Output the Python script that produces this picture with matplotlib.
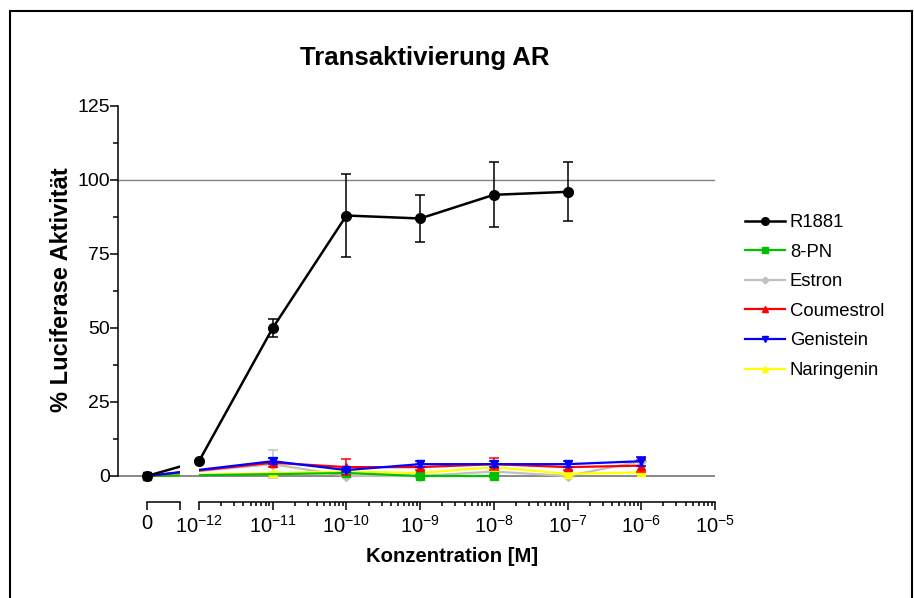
import numpy as np
import matplotlib
matplotlib.use('Agg')
import matplotlib.pyplot as plt
from matplotlib.ticker import FixedLocator, LogLocator, NullFormatter
from matplotlib.patches import Rectangle

plt.rcParams['font.family'] = ['Liberation Sans', 'DejaVu Sans']
plt.rcParams['mathtext.fontset'] = 'custom'
plt.rcParams['mathtext.rm'] = 'Liberation Sans'

# concentration in M (0 = solvent control, drawn on its own short axis)
conc = [0, 1e-12, 1e-11, 1e-10, 1e-9, 1e-8, 1e-7, 1e-6]
nan = np.nan
r1881 = [0, 5, 50, 88, 87, 95, 96, nan]
r1881_err = [0, 0, 3, 14, 8, 11, 10, nan]
pn8 = [0, nan, nan, 1, 0, 0, nan, nan]
pn8_err = [0, nan, nan, 0.5, 0.5, 0.5, nan, nan]
estron = [0, nan, 4, 0, 0, 1.5, 0, 5]
estron_err = [0, nan, 4.8, 0, 0, 0.5, 0, 1.5]
coumestrol = [0, nan, 4.5, 3, 3, 4, 3, 3.5]
coumestrol_err = [0, nan, 1.5, 2.7, 1, 2, 1, 2]
genistein = [0, nan, 5, 2, 4, 4, 4, 5]
genistein_err = [0, nan, 1, 0.5, 1, 1, 1, 1.5]
naringenin = [0, nan, 1, 1.5, 1, 3, 0.7, 1.2]
naringenin_err = [0, nan, 0.5, 0.5, 0.5, 0.5, 0.5, 0.5]

series = [
    ('R1881', r1881, r1881_err, 'black', 'o', 7, 1.8),
    ('8-PN', pn8, pn8_err, '#00c000', 's', 6, 1.6),
    ('Estron', estron, estron_err, '#c0c0c0', 'D', 5, 1.6),
    ('Coumestrol', coumestrol, coumestrol_err, 'red', '^', 6, 1.6),
    ('Genistein', genistein, genistein_err, 'blue', 'v', 6, 1.6),
    ('Naringenin', naringenin, naringenin_err, 'yellow', '^', 6, 1.6),
]
draw_order = [2, 5, 1, 3, 4, 0]

yticks = [0, 25, 50, 75, 100, 125]
xticks = [1e-12, 1e-11, 1e-10, 1e-9, 1e-8, 1e-7, 1e-6, 1e-5]

# pixel layout helpers
W, H = 914, 598
dec = (715 - 199) / 7.0
x0 = 10 ** (-12 - (199 - 147) / dec)   # where "0" sits on the log scale
ylo, yhi = -5, 130
bot = (H - (476 + 5 * 2.96)) / H
hgt = (135 * 2.96) / H

fig = plt.figure(figsize=(W / 100, H / 100), dpi=100)
ax_bg = fig.add_axes([118 / W, bot, (715 - 118) / W, hgt])
ax_a = fig.add_axes([118 / W, bot, (180 - 118) / W, hgt])
ax_b = fig.add_axes([199 / W, bot, (715 - 199) / W, hgt])

for ax in (ax_bg, ax_a, ax_b):
    ax.set_ylim(ylo, yhi)
    ax.patch.set_alpha(0)
    for s in ('top', 'right', 'left', 'bottom'):
        ax.spines[s].set_visible(False)
    ax.tick_params(left=False, labelleft=False, bottom=False, labelbottom=False)

# background: y axis and reference lines
ax_bg.set_xlim(0, 1)
ax_bg.axhline(0, color='#808080', lw=1.3, zorder=0)
ax_bg.axhline(100, color='#808080', lw=1.0, zorder=0)
ax_bg.spines['left'].set_visible(True)
ax_bg.spines['left'].set_bounds(0, 125)
ax_bg.spines['left'].set_linewidth(1.1)
ax_bg.yaxis.set_major_locator(FixedLocator(yticks))
ax_bg.yaxis.set_minor_locator(FixedLocator([12.5, 37.5, 62.5, 87.5, 112.5]))
ax_bg.tick_params(axis='y', which='both', left=True, labelleft=True, direction='out',
                  width=1.1, labelsize=14, pad=0)
ax_bg.tick_params(axis='y', which='major', length=6)
ax_bg.tick_params(axis='y', which='minor', length=3.5)

# zero segment
ax_a.set_xscale('log')
x_end_a = 10 ** (-12 - 19 / dec)
ax_a.set_xlim(10 ** (-12 - 81 / dec), x_end_a)
ax_a.spines['bottom'].set_visible(True)
ax_a.spines['bottom'].set_position(('outward', 8))
ax_a.spines['bottom'].set_bounds(x0, x_end_a)
ax_a.spines['bottom'].set_linewidth(1.1)
ax_a.xaxis.set_major_locator(FixedLocator([x0, x_end_a]))
ax_a.xaxis.set_minor_locator(FixedLocator([]))
ax_a.set_xticklabels(['0', ''])
ax_a.tick_params(axis='x', bottom=True, labelbottom=True, length=6, width=1.1,
                 labelsize=14.5, pad=3)

# log segment
ax_b.set_xscale('log')
ax_b.set_xlim(1e-12, 1e-5)
ax_b.spines['bottom'].set_visible(True)
ax_b.spines['bottom'].set_position(('outward', 8))
ax_b.spines['bottom'].set_linewidth(1.1)
ax_b.xaxis.set_major_locator(FixedLocator(xticks))
ax_b.xaxis.set_minor_locator(LogLocator(base=10, subs=np.arange(2, 10), numticks=20))
ax_b.xaxis.set_minor_formatter(NullFormatter())
ax_b.set_xticklabels([r'$\mathregular{10^{%d}}$' % int(round(np.log10(v))) for v in xticks])
ax_b.tick_params(axis='x', which='both', bottom=True, labelbottom=True, width=1.1,
                 labelsize=14.5, pad=3)
ax_b.tick_params(axis='x', which='major', length=6)
ax_b.tick_params(axis='x', which='minor', length=3)

xs = np.array([x0 if c == 0 else c for c in conc])
for k, idx in enumerate(draw_order):
    name, vals, errs, col, mk, ms, lw = series[idx]
    v = np.array(vals, dtype=float)
    e = np.array(errs, dtype=float)
    ok = ~np.isnan(v)
    z = 3 + k
    for ax in (ax_a, ax_b):
        ax.plot(xs[ok], v[ok], color=col, lw=lw, zorder=z)
    zero = ok & (xs == x0)
    pos = ok & (xs != x0)
    ax_a.plot(xs[zero], v[zero], ls='none', marker=mk, ms=ms, color=col,
              clip_on=False, zorder=z)
    ax_b.errorbar(xs[pos], v[pos], yerr=e[pos], fmt='none', ecolor=col,
                  elinewidth=1.1, capsize=3.5, capthick=1.1, clip_on=False, zorder=z)
    ax_b.plot(xs[pos], v[pos], ls='none', marker=mk, ms=ms, color=col,
              clip_on=False, zorder=z)

leg_handles = [plt.Line2D([], [], color=c, lw=lw, marker=m, ms=ms - 1.5)
               for (_, _, _, c, m, ms, lw) in series]
fig.legend(leg_handles, [s[0] for s in series], loc='upper left',
           bbox_to_anchor=(736 / W, 1 - 205 / H), frameon=False, fontsize=13.3,
           handlelength=2.15, handletextpad=0.27, labelspacing=0.68, borderpad=0)

fig.text(425 / W, 1 - 58 / H, 'Transaktivierung AR', ha='center', va='center',
         fontsize=18.5, fontweight='bold')
fig.text(452 / W, 1 - 556 / H, 'Konzentration [M]', ha='center', va='center',
         fontsize=14.6, fontweight='bold')
fig.text(62 / W, 1 - 290 / H, '% Luciferase Aktivität', ha='center', va='center',
         rotation=90, fontsize=17, fontweight='bold')

fig.add_artist(Rectangle((10 / W, -0.01), (912 - 10) / W, 1 - 11 / H + 0.01,
                         transform=fig.transFigure, fill=False, ec='black', lw=1.5))

fig.savefig('out.png', dpi=100)
